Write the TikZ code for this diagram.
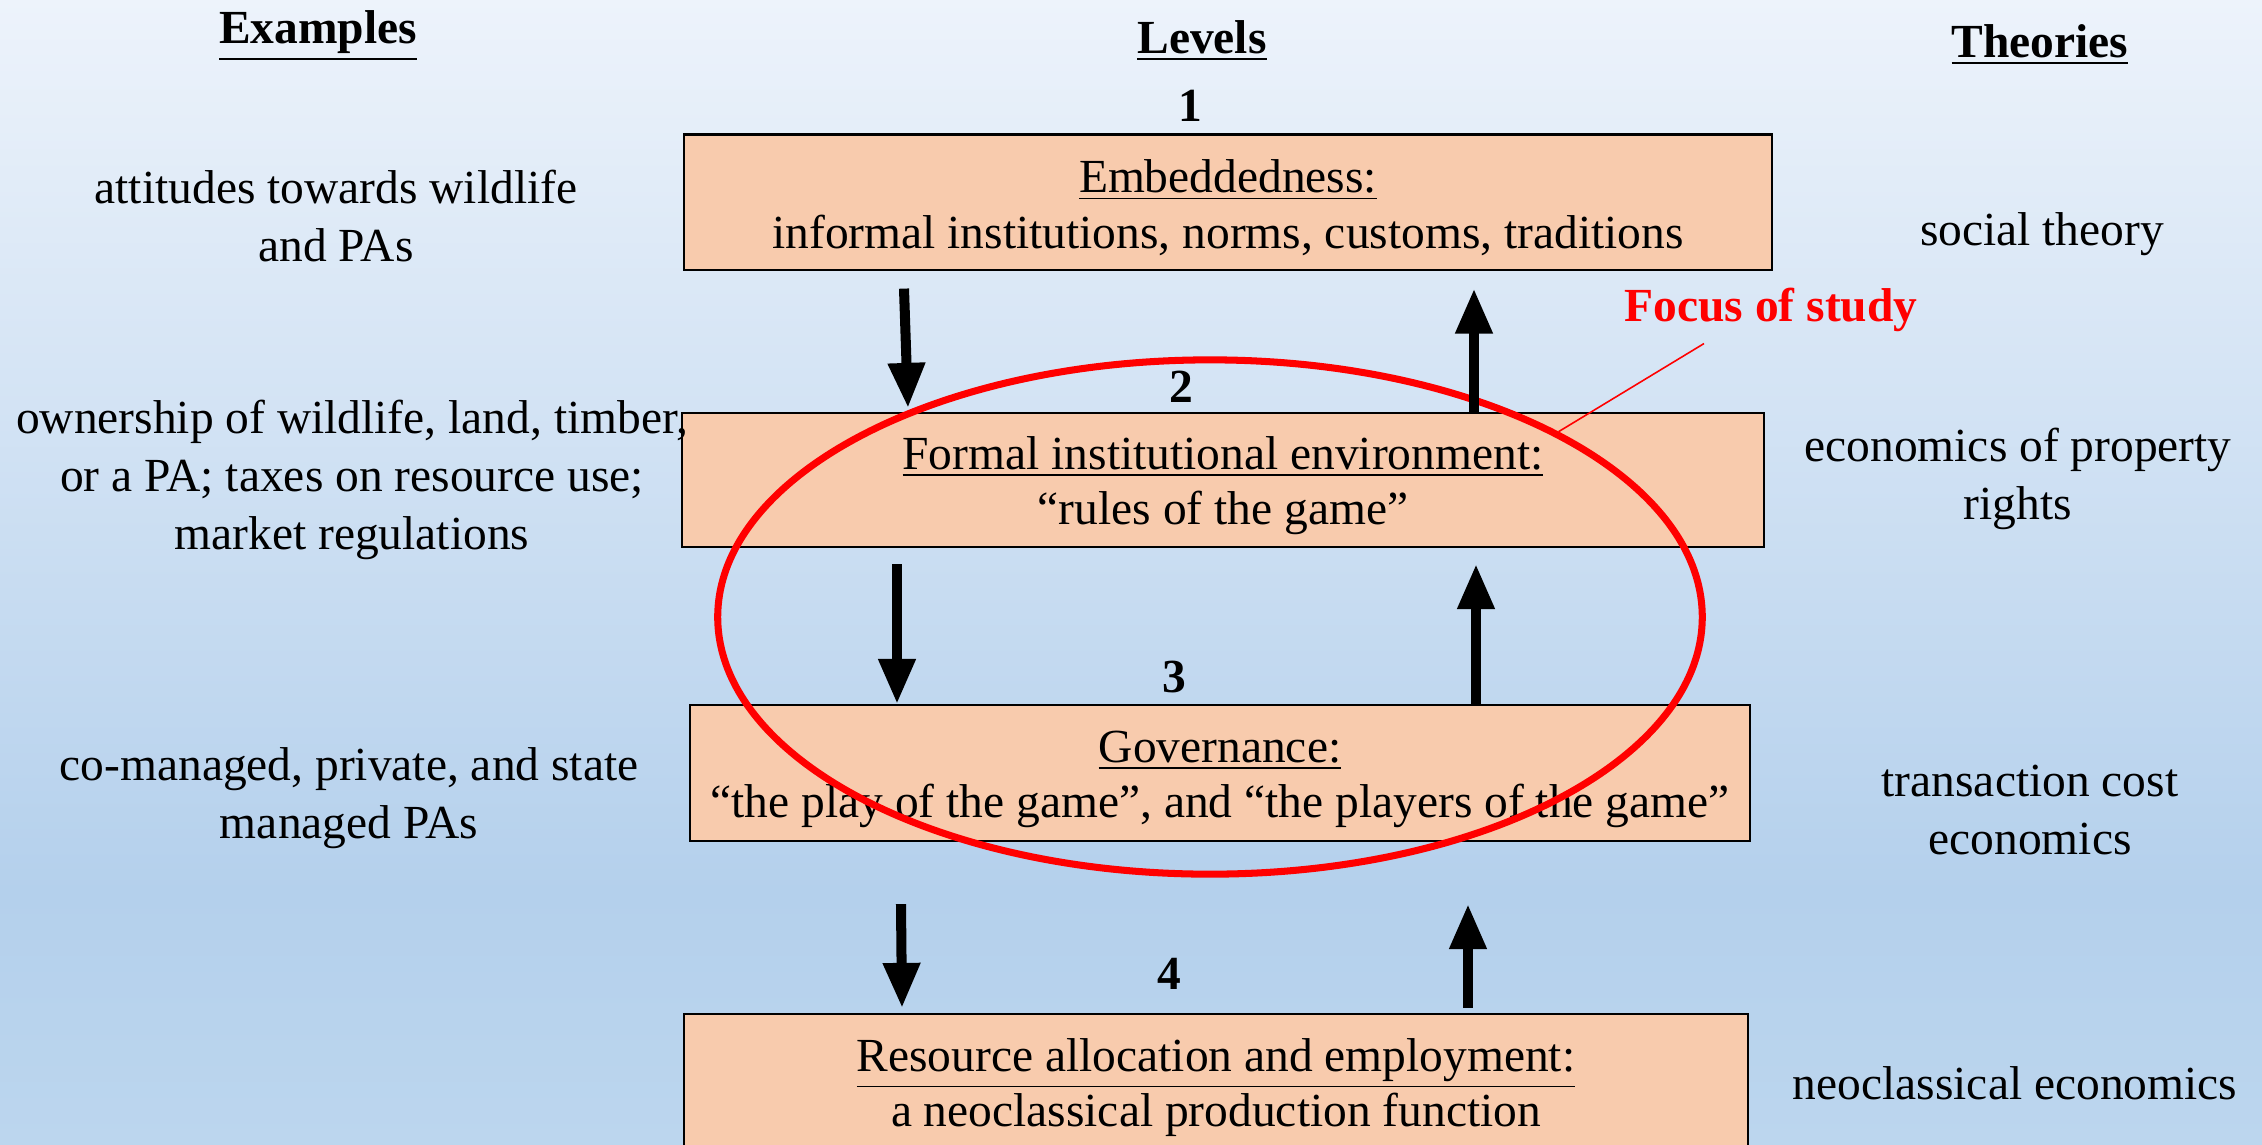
\documentclass[tikz,border=0pt]{standalone}
\usepackage{fontspec}
\setmainfont{Liberation Serif}
\usetikzlibrary{calc,arrows.meta,shapes.geometric}
\definecolor{peach}{HTML}{F8CBAD}
\definecolor{bgtop}{HTML}{EDF3FB}
\definecolor{bgmid}{HTML}{B4D0EC}
\definecolor{bgbot}{HTML}{BCD6EE}
\definecolor{focusred}{HTML}{FF0000}
\pgfdeclareverticalshading{skyfade}{100bp}{color(0bp)=(bgbot); color(25bp)=(bgbot); color(36bp)=(bgmid); color(75bp)=(bgtop); color(100bp)=(bgtop)}
\newcommand{\bodyfont}{\fontsize{13.5}{15.8}\selectfont}
\newcommand{\notefont}{\fontsize{13.5}{16.4}\selectfont}
\newcommand{\lvltitle}[1]{\rule{0pt}{12.6pt}\underline{#1}}

\begin{document}
\begin{tikzpicture}[x=0.01cm,y=-0.01cm,
                    level/.style={draw,line width=0.6pt,fill=peach,align=center,font={\bodyfont},inner sep=0pt},
                    note/.style={align=center,font={\notefont},inner sep=0pt},
                    head/.style={font={\bodyfont\bfseries},inner sep=0pt},
                    flow/.style={line width=2.85pt,-{Triangle[length=12.8pt,width=10pt]}},
                    focus/.style={ellipse,draw=focusred,line width=2pt,inner sep=0pt}]
            \useasboundingbox (0,0) rectangle (2262,1144);
            \clip (0,0) rectangle (2262,1144);
            \shade[shading=skyfade] (0,0) rectangle (2262,1144);

            \node[head] (examples) at (318,36) {\underline{Examples}};
            \node[head] (levels) at (1202,41) {\underline{Levels}};
            \node[head] (theories) at (2040,45) {\underline{Theories}};

            \node[level,minimum width=10.88cm,minimum height=1.35cm] (embed) at (1228,202) {
                \lvltitle{Embeddedness:}\\
                informal institutions, norms, customs, traditions
            };
            \node[level,minimum width=10.81cm,minimum height=1.34cm] (formal) at (1223,480) {
                \lvltitle{Formal institutional environment:}\\
                “rules of the game”
            };
            \node[level,minimum width=10.60cm,minimum height=1.36cm] (govern) at (1220,773) {
                \lvltitle{Governance:}\\
                “the play of the game”, and “the players of the game”
            };
            \node[level,minimum width=10.64cm,minimum height=1.36cm] (alloc) at (1216,1082) {
                \lvltitle{Resource allocation and employment:}\\
                a neoclassical production function
            };

            \node[head] (num1) at ($ (embed.north) + (-38,-28) $) {1};
            \node[head] (num2) at ($ (formal.north) + (-42,-25) $) {2};
            \node[head] (num3) at ($ (govern.north) + (-46,-27) $) {3};
            \node[head] (num4) at ($ (alloc.north) + (-47,-39) $) {4};

            \node[note] (ex1) at (336,216) {attitudes towards wildlife\\and PAs};
            \node[note] (ex2) at (352,480) {ownership of wildlife, land, timber,\\or a PA; taxes on resource use;\\market regulations};
            \node[note] (ex3) at (349,798) {co-managed, private, and state\\managed PAs};

            \node[note] (th1) at (2042,234) {social theory};
            \node[note] (th2) at (2018,479) {economics of property\\rights};
            \node[note] (th3) at (2030,810) {transaction cost\\economics};
            \node[note] (th4) at (2015,1083) {neoclassical economics};

            \node[focus,minimum width=9.84cm,minimum height=5.14cm] (study) at (1210,617) {};
            \node[head,text=focusred] (studylabel) at (1771,310) {Focus of study};
            \draw[focusred,line width=0.45pt] ($ (studylabel.south) + (-67,11) $) -- (study.28);

            \draw[flow] ($ (embed.south) + (-324,18) $) -- ($ (formal.north) + (-315,-4) $);
            \draw[flow] ($ (formal.north) + (251,0) $) -- ($ (embed.south) + (246,18) $);
            \draw[flow] ($ (formal.south) + (-326,16) $) -- ($ (govern.north) + (-323,0) $);
            \draw[flow] ($ (govern.north) + (256,0) $) -- ($ (formal.south) + (253,16) $);
            \draw[flow] ($ (govern.south) + (-319,62) $) -- ($ (alloc.north) + (-314,-5) $);
            \draw[flow] ($ (alloc.north) + (252,-5) $) -- ($ (govern.south) + (248,62) $);
        \end{tikzpicture}
\end{document}
